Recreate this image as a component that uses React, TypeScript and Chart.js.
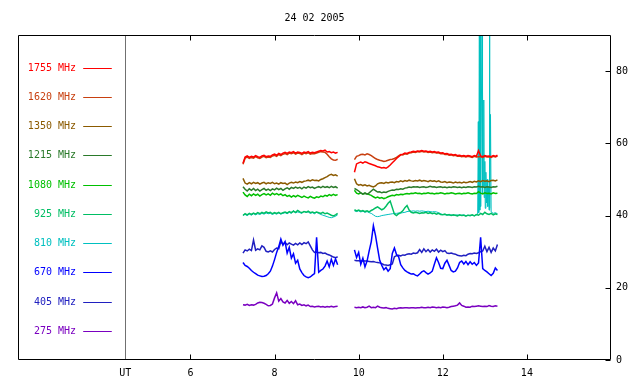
import { useEffect, useRef } from 'react';
import { Chart, registerables } from 'chart.js';
Chart.register(...registerables);

const TITLE = '24 02 2005';
const FONT = '"DejaVu Sans Mono", monospace';
const X_MIN = 1.9;
const X_MAX = 16;
const Y_MIN = 0;
const Y_MAX = 90;
const X_TICKS = [4.45, 6, 8, 10, 12, 14];
const X_TICK_LABELS = ['UT', '6', '8', '10', '12', '14'];
const Y_TICKS = [0, 20, 40, 60, 80];
const UT_X = 4.45;

const FREQS = ['1755 MHz', '1620 MHz', '1350 MHz', '1215 MHz', '1080 MHz', '925 MHz', '810 MHz', '670 MHz', '405 MHz', '275 MHz'];
const COLORS = ['#ff0000', '#c84010', '#8b5a00', '#2a7a2a', '#00c000', '#00be64', '#00c0c0', '#0000ff', '#2020c0', '#7a00c0'];
const WIDTHS = [1.5, 1.5, 1.5, 1.5, 1.5, 1.5, 1, 1.5, 1.5, 1.5];
const LEGEND_Y = [81, 72.9, 64.8, 56.7, 48.6, 40.5, 32.4, 24.3, 16.2, 8.1];
const LEGEND_LINE_X = [3.45, 4.13];
const LEGEND_TEXT_X = 3.28;
const GAP_X = 9.7;

const T1 = [7.25, 7.30, 7.35, 7.40, 7.45, 7.50, 7.55, 7.60, 7.65, 7.70,
  7.75, 7.80, 7.85, 7.90, 7.95, 8.00, 8.05, 8.10, 8.15, 8.20,
  8.25, 8.30, 8.35, 8.40, 8.45, 8.50, 8.55, 8.60, 8.65, 8.70,
  8.75, 8.80, 8.85, 8.90, 8.95, 9.00, 9.05, 9.10, 9.15, 9.20,
  9.25, 9.30, 9.35, 9.40, 9.45, 9.50];
const T2 = [9.90, 9.95, 10.00, 10.05, 10.10, 10.15, 10.20, 10.25, 10.30, 10.35,
  10.40, 10.45, 10.50, 10.55, 10.60, 10.65, 10.70, 10.75, 10.80, 10.85,
  10.90, 10.95, 11.00, 11.05, 11.10, 11.15, 11.20, 11.25, 11.30, 11.35,
  11.40, 11.45, 11.50, 11.55, 11.60, 11.65, 11.70, 11.75, 11.80, 11.85,
  11.90, 11.95, 12.00, 12.05, 12.10, 12.15, 12.20, 12.25, 12.30, 12.35,
  12.40, 12.45, 12.50, 12.55, 12.60, 12.65, 12.70, 12.75, 12.80, 12.85,
  12.90, 12.95, 13.00, 13.05, 13.10, 13.15, 13.20, 13.25, 13.30];

const F1755_A = [54.5, 56.2, 56.5, 56.1, 56.4, 56.2, 56.6, 56.3, 56.1, 56.5,
  56.7, 56.3, 56.5, 56.4, 56.8, 57.0, 56.7, 57.2, 56.9, 57.3,
  57.5, 57.2, 57.6, 57.4, 57.7, 57.3, 57.6, 57.5, 57.2, 57.6,
  57.4, 57.7, 57.3, 57.5, 57.4, 57.6, 57.8, 58.0, 57.9, 58.1,
  57.6, 57.7, 57.4, 57.6, 57.3, 57.5];
const F1755_B = [52.0, 54.3, 54.6, 54.8, 54.5, 54.9, 54.7, 54.4, 54.2, 54.0,
  53.8, 53.5, 53.4, 53.2, 53.3, 53.1, 53.5, 54.0, 54.6, 55.2,
  55.8, 56.3, 56.8, 57.0, 57.3, 57.2, 57.5, 57.6, 57.8, 57.7,
  57.9, 57.8, 58.0, 57.8, 57.9, 57.7, 57.8, 57.6, 57.7, 57.5,
  57.6, 57.3, 57.4, 57.1, 57.2, 56.9, 57.0, 56.8, 56.9, 56.6,
  56.7, 56.5, 56.6, 56.4, 56.6, 56.5, 56.3, 56.6, 56.4, 58.0,
  56.5, 56.3, 56.6, 56.4, 56.5, 56.3, 56.6, 56.4, 56.7];

const F1620_A = [54.2, 55.9, 56.2, 55.8, 56.1, 55.9, 56.3, 56.0, 55.8, 56.2,
  56.4, 56.0, 56.2, 56.1, 56.5, 56.7, 56.4, 56.9, 56.6, 57.0,
  57.2, 56.9, 57.3, 57.1, 57.4, 57.0, 57.3, 57.2, 56.9, 57.3,
  57.1, 57.4, 57.0, 57.2, 57.1, 57.3, 57.5, 57.7, 57.6, 57.5,
  57.0, 56.3, 55.7, 55.4, 55.3, 55.6];
const F1620_B = [55.5, 56.4, 56.6, 56.9, 57.0, 56.8, 57.1, 56.9, 56.6, 56.2,
  55.8, 55.5, 55.3, 55.2, 55.0, 55.1, 55.3, 55.5, 55.6, 55.8,
  56.1, 56.5, 56.9, 56.8, 57.1, 57.0, 57.3, 57.4, 57.6, 57.5,
  57.7, 57.6, 57.8, 57.6, 57.7, 57.5, 57.6, 57.4, 57.5, 57.3,
  57.4, 57.1, 57.2, 56.9, 57.0, 56.7, 56.8, 56.6, 56.7, 56.4,
  56.5, 56.3, 56.4, 56.2, 56.4, 56.3, 56.1, 56.4, 56.2, 56.3,
  56.3, 56.1, 56.4, 56.2, 56.3, 56.1, 56.4, 56.2, 56.5];

const F1350_A = [50.3, 49.0, 48.7, 49.1, 48.8, 49.2, 48.9, 49.1, 48.7, 49.0,
  49.2, 48.8, 49.1, 48.9, 49.2, 48.8, 49.0, 48.7, 49.1, 48.9,
  49.0, 48.6, 49.0, 49.2, 49.0, 49.3, 49.1, 49.4, 49.2, 49.5,
  49.6, 49.8, 49.6, 49.9, 49.7, 49.8, 49.6, 50.0, 50.2, 50.5,
  50.8, 51.2, 51.4, 51.1, 51.3, 50.9];
const F1350_B = [50.2, 48.8, 48.4, 48.6, 48.3, 48.5, 48.2, 48.4, 48.1, 47.9,
  48.2, 48.8, 49.0, 49.1, 48.9, 49.2, 49.0, 49.2, 49.3, 49.1,
  49.4, 49.3, 49.6, 49.4, 49.7, 49.5, 49.8, 49.6, 49.5, 49.7,
  49.6, 49.8, 49.5, 49.7, 49.6, 49.4, 49.7, 49.5, 49.6, 49.4,
  49.6, 49.3, 49.2, 49.4, 49.1, 49.3, 49.2, 49.0, 49.3, 49.1,
  49.2, 49.0, 49.3, 49.1, 49.2, 49.4, 49.2, 49.5, 49.3, 49.6,
  49.4, 49.7, 49.5, 49.6, 49.4, 49.7, 49.8, 49.6, 49.9];

const F1215_A = [48.0, 47.3, 46.8, 47.4, 47.0, 47.5, 46.9, 47.3, 46.8, 47.2,
  47.5, 47.0, 47.3, 46.9, 47.4, 47.1, 47.6, 47.2, 47.5, 47.0,
  47.4, 47.7, 47.3, 47.8, 47.5, 47.9, 47.6, 47.8, 47.4, 47.9,
  47.6, 48.0, 47.7, 47.9, 47.5, 47.8, 48.0, 47.7, 48.1, 47.8,
  48.0, 47.7, 48.1, 47.8, 48.0, 47.6];
const F1215_B = [47.5, 47.2, 46.8, 46.3, 46.0, 46.2, 45.9, 46.3, 46.8, 47.3,
  46.9, 46.5, 46.6, 46.3, 46.5, 46.4, 46.7, 46.9, 47.1, 47.0,
  47.3, 47.2, 47.4, 47.3, 47.6, 47.7, 47.9, 47.8, 48.0, 47.9,
  48.0, 47.8, 47.9, 48.0, 47.8, 47.9, 48.1, 47.9, 48.0, 47.8,
  47.9, 48.0, 47.8, 47.9, 47.7, 47.9, 47.8, 48.0, 47.9, 47.8,
  47.9, 47.7, 47.9, 47.8, 48.0, 47.9, 47.8, 48.0, 47.9, 48.1,
  47.9, 48.0, 47.8, 48.0, 47.9, 47.8, 48.0, 47.9, 48.1];

const F1080_A = [46.5, 45.7, 45.3, 45.9, 45.5, 46.0, 45.6, 45.9, 45.4, 45.8,
  46.1, 45.7, 46.0, 45.6, 46.2, 45.8, 46.1, 45.7, 46.0, 45.5,
  45.8, 45.3, 45.6, 45.1, 45.5, 45.2, 45.6, 45.3, 45.0, 45.4,
  45.1, 44.9, 45.3, 45.0, 44.8, 45.2, 45.0, 45.4, 45.2, 45.6,
  45.4, 45.8, 45.5, 45.9, 45.6, 45.8];
const F1080_B = [47.0, 46.2, 46.0, 46.3, 45.9, 46.2, 46.0, 45.8, 45.6, 45.2,
  44.9, 45.1, 44.8, 45.0, 44.7, 44.9, 45.2, 45.4, 45.6, 45.5,
  45.8, 45.7, 45.9, 45.8, 46.0, 46.1, 46.0, 46.2, 46.1, 46.3,
  46.1, 46.2, 46.0, 46.2, 46.1, 46.3, 46.1, 46.2, 46.0, 46.2,
  46.1, 46.3, 46.2, 46.0, 46.2, 46.1, 46.3, 46.2, 46.0, 46.1,
  46.2, 46.0, 46.2, 46.1, 46.3, 46.1, 46.0, 46.2, 46.1, 46.6,
  46.2, 46.0, 46.3, 46.1, 46.2, 46.0, 46.3, 46.1, 46.2];

const F925_A = [40.0, 40.5, 40.2, 40.6, 40.3, 40.7, 40.4, 40.8, 40.5, 40.9,
  40.6, 41.0, 40.7, 40.9, 40.5, 40.8, 40.6, 40.9, 40.5, 40.8,
  41.0, 40.7, 41.1, 40.8, 41.2, 40.9, 41.4, 41.0, 40.8, 41.1,
  40.9, 41.2, 40.8, 41.0, 40.7, 41.0, 40.8, 40.6, 40.9, 40.5,
  40.7, 40.4, 40.1, 39.9, 40.2, 40.6];
const F925_B = [41.6, 41.3, 41.5, 41.2, 41.4, 41.1, 41.3, 41.0, 41.4, 41.7,
  42.1, 42.4, 42.0, 41.6, 41.9, 42.6, 43.4, 44.0, 42.2, 40.4,
  40.0, 40.5, 40.8, 41.3, 42.2, 42.8, 41.5, 40.9, 40.7, 40.9,
  40.8, 40.6, 40.8, 40.7, 40.9, 40.6, 40.8, 40.5, 40.7, 40.4,
  40.6, 40.3, 40.2, 40.4, 40.1, 40.3, 40.0, 40.2, 40.1, 39.9,
  40.2, 40.0, 40.1, 39.8, 40.1, 40.0, 40.2, 39.9, 40.3, 40.1,
  40.6, 40.3, 40.9, 40.5, 40.3, 40.6, 40.2, 40.5, 40.3];

const F810_A = [40.2, 40.3, 40.0, 40.4, 40.1, 40.5, 40.2, 40.5, 40.3, 40.6,
  40.4, 40.7, 40.5, 40.6, 40.3, 40.6, 40.4, 40.7, 40.4, 40.6,
  40.8, 40.5, 40.9, 40.6, 41.4, 40.7, 41.0, 40.8, 40.6, 41.2,
  40.9, 41.0, 40.6, 40.8, 40.5, 40.9, 40.6, 40.3, 40.1, 39.9,
  39.7, 39.5, 39.4, 39.6, 39.8, 40.2];
const F810_B_TIME = [9.90, 9.95, 10.00, 10.05, 10.10, 10.15, 10.20, 10.25, 10.30, 10.35,
  10.40, 10.45, 10.50, 10.55, 10.60, 10.65, 10.70, 10.75, 10.80, 10.85,
  10.90, 10.95, 11.00, 11.05, 11.10, 11.15, 11.20, 11.25, 11.30, 11.35,
  11.40, 11.45, 11.50, 11.55, 11.60, 11.65, 11.70, 11.75, 11.80, 11.85,
  11.90, 11.95, 12.00, 12.05, 12.10, 12.15, 12.20, 12.25, 12.30, 12.35,
  12.40, 12.45, 12.50, 12.55, 12.60, 12.65, 12.70, 12.75, 12.80,
  12.83, 12.845, 12.855, 12.87, 12.88, 12.895, 12.90, 12.935, 12.94, 12.95,
  12.96, 12.975, 12.985, 13.00, 13.01, 13.025, 13.04, 13.055, 13.07, 13.085,
  13.10, 13.11, 13.12, 13.135, 13.15, 13.20, 13.25, 13.30];
const F810_B = [41.3, 41.1, 41.3, 41.0, 41.2, 40.9, 41.1, 40.8, 40.6, 40.2,
  39.8, 39.7, 39.8, 40.0, 40.1, 40.2, 40.3, 40.4, 40.5, 40.6,
  40.6, 40.7, 40.7, 40.8, 40.9, 41.1, 41.2, 41.2, 41.3, 41.2,
  41.3, 41.2, 41.3, 41.2, 41.1, 41.2, 41.1, 41.0, 41.1, 41.0,
  40.8, 40.5, 40.3, 40.2, 40.3, 40.1, 40.2, 40.0, 40.1, 40.2,
  40.0, 40.1, 40.2, 40.0, 40.1, 39.9, 40.1, 40.0, 40.2,
  40.4, 66.0, 40.8, 95, 41.5, 95, 42.5, 95, 46.0, 74.5,
  48.0, 72.0, 45.0, 55.0, 42.0, 52.0, 43.5, 50.0, 42.5, 48.0,
  41.5, 95, 42.0, 68.0, 41.0, 40.6, 40.8, 40.5];

const F670_A = [27.0, 26.2, 25.9, 25.4, 24.8, 24.3, 23.9, 23.5, 23.3, 23.1,
  23.2, 23.4, 23.9, 24.6, 26.0, 27.8, 29.8, 31.4, 33.5, 31.8,
  32.8, 29.6, 31.2, 28.2, 29.4, 26.8, 27.6, 25.2, 24.2, 23.4,
  23.0, 22.8, 23.0, 23.5, 23.9, 34.0, 24.3, 24.8, 25.2, 26.0,
  27.4, 25.8, 27.9, 26.2, 28.0, 26.4];
const F670_B = [30.5, 28.4, 29.8, 26.5, 28.2, 25.8, 27.4, 30.2, 32.8, 37.2,
  34.5, 31.0, 27.6, 26.2, 25.0, 25.6, 24.6, 25.3, 29.5, 31.0,
  29.2, 28.6, 26.4, 25.5, 24.8, 24.4, 24.1, 23.8, 23.9, 23.5,
  23.3, 23.8, 24.4, 24.7, 24.2, 23.8, 24.1, 24.6, 26.5, 28.3,
  27.0, 25.4, 25.3, 26.8, 27.6, 26.2, 24.8, 24.4, 24.6, 25.5,
  27.0, 27.4, 26.6, 27.3, 26.4, 27.2, 26.5, 27.0, 26.2, 26.9,
  34.0, 25.3, 24.8, 24.4, 23.9, 23.4, 24.0, 25.5, 24.8];

const F405_A = [29.6, 30.5, 30.2, 30.7, 30.3, 33.2, 30.4, 30.8, 30.5, 31.6,
  31.2, 30.1, 29.9, 30.2, 29.9, 30.6, 31.0, 30.8, 32.8, 32.0,
  32.6, 31.9, 32.4, 32.1, 31.8, 32.3, 31.9, 32.4, 32.0, 32.5,
  32.2, 32.7, 31.6, 30.5, 29.8, 29.9, 29.7, 29.8, 29.5, 29.6,
  29.3, 29.1, 28.8, 28.5, 28.3, 28.6];
const F405_B = [27.6, 27.5, 27.5, 27.4, 27.5, 27.4, 27.4, 27.3, 27.2, 27.3,
  27.1, 27.0, 26.9, 26.7, 26.4, 26.3, 26.2, 26.4, 26.6, 28.6,
  28.9, 29.0, 28.8, 29.1, 29.0, 29.3, 29.4, 29.3, 29.6, 29.5,
  29.7, 30.6, 29.8, 30.8, 30.0, 30.6, 29.9, 30.5, 30.1, 30.7,
  29.9, 30.4, 30.0, 30.3, 29.6, 29.5, 29.6, 29.4, 29.3, 29.0,
  28.9, 28.8, 29.0, 28.9, 29.3, 29.5, 29.4, 29.6, 29.5, 29.7,
  30.0, 30.2, 31.5, 30.0, 31.2, 29.8, 31.0, 30.2, 32.0];

const F275_A = [15.3, 15.2, 15.4, 15.1, 15.3, 15.2, 15.4, 15.8, 16.0, 15.9,
  15.7, 15.4, 15.0, 15.1, 15.5, 17.2, 18.6, 16.3, 17.0, 16.1,
  15.8, 16.5, 15.7, 16.2, 15.6, 16.4, 15.3, 15.5, 15.1, 15.3,
  15.0, 15.2, 14.8, 14.9, 14.7, 14.8, 14.9, 14.7, 14.8, 14.6,
  14.8, 14.7, 14.9, 14.7, 14.8, 14.9];
const F275_B = [14.6, 14.5, 14.6, 14.5, 14.7, 14.5, 14.6, 14.9, 14.5, 14.6,
  14.5, 14.9, 14.6, 14.5, 14.4, 14.5, 14.3, 14.2, 14.1, 14.3,
  14.2, 14.4, 14.5, 14.4, 14.5, 14.5, 14.4, 14.5, 14.5, 14.4,
  14.5, 14.5, 14.6, 14.5, 14.5, 14.6, 14.5, 14.7, 14.6, 14.5,
  14.6, 14.5, 14.7, 14.6, 14.5, 14.6, 14.8, 14.9, 15.0, 15.2,
  15.8, 15.1, 14.9, 14.6, 14.7, 14.6, 14.9, 14.8, 14.9, 15.0,
  14.9, 14.8, 14.9, 14.8, 15.1, 14.9, 14.8, 15.0, 14.9];

type Pt = { x: number; y: number | null };
function pts(ta: number[], va: number[], tb: number[], vb: number[]): Pt[] {
  return [
    ...ta.map((t, i) => ({ x: t, y: va[i] })),
    { x: GAP_X, y: null },
    ...tb.map((t, i) => ({ x: t, y: vb[i] })),
  ];
}

const SERIES: Pt[][] = [
  pts(T1, F1755_A, T2, F1755_B),
  pts(T1, F1620_A, T2, F1620_B),
  pts(T1, F1350_A, T2, F1350_B),
  pts(T1, F1215_A, T2, F1215_B),
  pts(T1, F1080_A, T2, F1080_B),
  pts(T1, F925_A, T2, F925_B),
  pts(T1, F810_A, F810_B_TIME, F810_B),
  pts(T1, F670_A, T2, F670_B),
  pts(T1, F405_A, T2, F405_B),
  pts(T1, F275_A, T2, F275_B),
];

const framePlugin = {
  id: 'frame',
  afterDraw(chart: any) {
    const ctx = chart.ctx;
    const { left, right, top, bottom } = chart.chartArea;
    const xs = chart.scales.x;
    const ys = chart.scales.y;
    const L = Math.round(left) + 0.5;
    const R = Math.round(right) - 0.5;
    const T = Math.round(top) + 0.5;
    const B = Math.round(bottom) - 0.5;
    ctx.save();
    const ux = Math.round(xs.getPixelForValue(UT_X)) + 0.5;
    ctx.strokeStyle = '#707070';
    ctx.lineWidth = 1;
    ctx.beginPath();
    ctx.moveTo(ux, T);
    ctx.lineTo(ux, B);
    ctx.stroke();
    ctx.strokeStyle = '#000';
    ctx.beginPath();
    ctx.moveTo(L, T); ctx.lineTo(R, T); ctx.lineTo(R, B); ctx.lineTo(L, B); ctx.closePath();
    ctx.stroke();
    ctx.beginPath();
    X_TICKS.forEach((v) => {
      if (v === UT_X) return;
      const px = Math.round(xs.getPixelForValue(v)) + 0.5;
      ctx.moveTo(px, B); ctx.lineTo(px, B - 5);
      ctx.moveTo(px, T); ctx.lineTo(px, T + 5);
    });
    Y_TICKS.forEach((v) => {
      const py = Math.round(ys.getPixelForValue(v)) + 0.5;
      ctx.moveTo(R, py); ctx.lineTo(R - 5, py);
    });
    ctx.stroke();
    ctx.font = '10px ' + FONT;
    ctx.textAlign = 'right';
    ctx.textBaseline = 'middle';
    const lx0 = xs.getPixelForValue(LEGEND_LINE_X[0]);
    const lx1 = xs.getPixelForValue(LEGEND_LINE_X[1]);
    const tx = xs.getPixelForValue(LEGEND_TEXT_X);
    FREQS.forEach((f, i) => {
      const py = Math.round(ys.getPixelForValue(LEGEND_Y[i])) + 0.5;
      ctx.fillStyle = COLORS[i];
      ctx.fillText(f, tx, py);
      ctx.strokeStyle = COLORS[i];
      ctx.beginPath();
      ctx.moveTo(lx0, py); ctx.lineTo(lx1, py);
      ctx.stroke();
    });
    ctx.fillStyle = '#000';
    ctx.textAlign = 'center';
    ctx.fillText(TITLE, (left + right) / 2, 18);
    ctx.restore();
  },
};

export default function App() {
  const ref = useRef<HTMLCanvasElement | null>(null);
  useEffect(() => {
    document.body.style.margin = '0';
    const canvas = ref.current;
    if (!canvas) return;
    const chart = new Chart(canvas, {
      type: 'line',
      data: {
        datasets: SERIES.map((d, i) => ({
          label: FREQS[i],
          data: d as any,
          borderColor: COLORS[i],
          backgroundColor: COLORS[i],
          borderWidth: WIDTHS[i],
          pointRadius: 0,
          tension: 0,
          spanGaps: false,
        })),
      },
      options: {
        animation: false,
        responsive: false,
        events: [],
        layout: { padding: { left: 18, top: 35, right: 0, bottom: 0 } },
        plugins: { legend: { display: false }, title: { display: false }, tooltip: { enabled: false } },
        scales: {
          x: {
            type: 'linear',
            min: X_MIN,
            max: X_MAX,
            position: 'bottom',
            grid: { display: false, drawTicks: false },
            border: { display: false },
            afterBuildTicks: (s: any) => { s.ticks = X_TICKS.map((v) => ({ value: v })); },
            afterFit: (s: any) => { s.height = 24; },
            ticks: {
              autoSkip: false,
              maxRotation: 0,
              padding: 7,
              color: '#000',
              font: { family: FONT, size: 10 },
              callback: (v: any) => X_TICK_LABELS[X_TICKS.indexOf(Number(v))] ?? '',
            },
          },
          y: {
            type: 'linear',
            min: Y_MIN,
            max: Y_MAX,
            position: 'right',
            grid: { display: false, drawTicks: false },
            border: { display: false },
            afterBuildTicks: (s: any) => { s.ticks = Y_TICKS.map((v) => ({ value: v })); },
            afterFit: (s: any) => { s.width = 29; },
            ticks: {
              padding: 5,
              color: '#000',
              font: { family: FONT, size: 10 },
              callback: (v: any) => String(v),
            },
          },
        },
      },
      plugins: [framePlugin],
    });
    return () => chart.destroy();
  }, []);
  return (
    <div style={{ width: 640, height: 384 }}>
      <canvas ref={ref} width={640} height={384} style={{ display: 'block', width: 640, height: 384 }} />
    </div>
  );
}
